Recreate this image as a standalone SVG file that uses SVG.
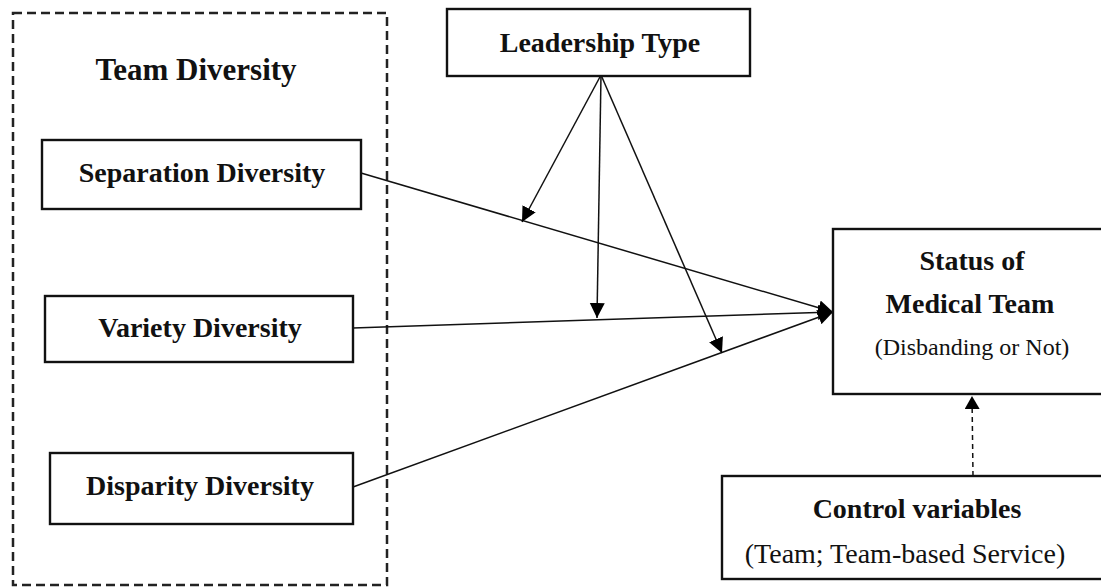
<svg xmlns="http://www.w3.org/2000/svg" width="1101" height="588" viewBox="0 0 1101 588">
<style>
.box{fill:#fff;stroke:#111;stroke-width:2.4}
.b{font-family:"Liberation Serif","Times New Roman",serif;font-weight:bold;font-size:28px;fill:#111;text-anchor:middle}
.r{font-family:"Liberation Serif","Times New Roman",serif;font-size:28px;fill:#111;text-anchor:middle}
.ln{stroke:#111;stroke-width:1.5;fill:none}
</style>
<defs>
<marker id="ah" markerUnits="userSpaceOnUse" markerWidth="17" markerHeight="16" refX="15" refY="7.5" orient="auto">
<path d="M0,0 L15,7.5 L0,15 z" fill="#000"/>
</marker>
<marker id="ahs" markerUnits="userSpaceOnUse" markerWidth="15" markerHeight="16" refX="13" refY="7.5" orient="auto">
<path d="M0,0 L13,7.5 L0,15 z" fill="#000"/>
</marker>
</defs>
<rect width="1101" height="588" fill="#fff"/>
<g id="team-diversity">
<rect x="13" y="13" width="374" height="572" fill="none" stroke="#222" stroke-width="2.5" stroke-dasharray="9 5"/>
<text class="b" x="196" y="80" style="font-size:31px">Team Diversity</text>
</g>
<g id="connectors">
<line class="ln" x1="361" y1="173" x2="833" y2="312" marker-end="url(#ah)"/>
<line class="ln" x1="353" y1="328" x2="833" y2="312" marker-end="url(#ah)"/>
<line class="ln" x1="353" y1="487" x2="833" y2="312" marker-end="url(#ah)"/>
<line class="ln" x1="601" y1="75" x2="522" y2="222" marker-end="url(#ah)"/>
<line class="ln" x1="601" y1="75" x2="597" y2="318" marker-end="url(#ah)"/>
<line class="ln" x1="601" y1="75" x2="722" y2="353" marker-end="url(#ah)"/>
<line class="ln" x1="973" y1="476" x2="972" y2="396" stroke-dasharray="5 4" marker-end="url(#ahs)"/>
</g>
<g id="separation">
<rect class="box" x="42" y="140" width="319" height="69"/>
<text class="b" x="202" y="182">Separation Diversity</text>
</g>
<g id="variety">
<rect class="box" x="45" y="296" width="308" height="66"/>
<text class="b" x="200" y="337">Variety Diversity</text>
</g>
<g id="disparity">
<rect class="box" x="50" y="453" width="303" height="71"/>
<text class="b" x="200" y="495">Disparity Diversity</text>
</g>
<g id="leadership">
<rect class="box" x="447" y="9" width="303" height="67"/>
<text class="b" x="600" y="52">Leadership Type</text>
</g>
<g id="status">
<rect class="box" x="833" y="229" width="280" height="165"/>
<text class="b" x="972" y="270">Status of</text>
<text class="b" x="970" y="313">Medical Team</text>
<text class="r" x="972" y="355" style="font-size:24px">(Disbanding or Not)</text>
</g>
<g id="control">
<rect class="box" x="722" y="476" width="390" height="103"/>
<text class="b" x="917" y="518">Control variables</text>
<text class="r" x="905" y="563">(Team; Team-based Service)</text>
</g>
</svg>
